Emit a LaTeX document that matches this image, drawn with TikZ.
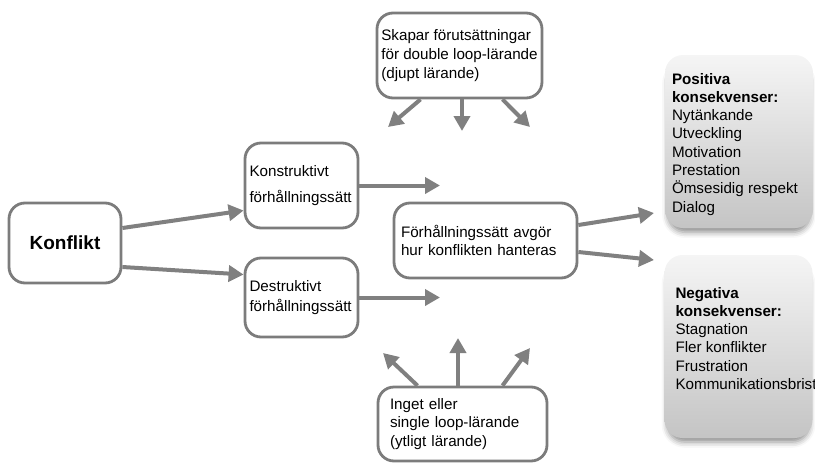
\documentclass[tikz,border=0pt]{standalone}
\usepackage{fontspec}
\setmainfont{Liberation Sans}
\usepackage{tikz}
\usetikzlibrary{positioning}
\usetikzlibrary{arrows.meta}
\usetikzlibrary{shadows.blur}

\definecolor{ramgra}{HTML}{7C7C7C}
\definecolor{pilgra}{HTML}{808080}

\begin{document}
\begin{tikzpicture}[x=1pt, y=-1pt,
    ruta/.style={draw=ramgra, line width=2.8pt, rounded corners=16pt, fill=white, inner xsep=0pt, inner ysep=0pt, align=left},
    pil/.style={draw=pilgra, line width=4pt, -{Triangle[length=15pt, width=16pt]}},
    konsruta/.style={rounded corners=18pt, top color=white!96!black, bottom color=black!23, minimum width=148pt,
        blur shadow={shadow xshift=0pt, shadow yshift=-8pt, shadow scale=0.96, shadow blur radius=6pt, shadow opacity=45}},
    konstext/.style={font=\fontsize{15.2}{18.3}\selectfont, align=left, inner sep=0pt}
    ]
    \useasboundingbox (0,0) rectangle (815,464);

    % rutor
    \node [ruta, align=center, minimum width=112pt, minimum height=80pt, font=\fontsize{19}{22}\selectfont\bfseries] (konflikt) at (65,243) {Konflikt};
    \node [ruta, minimum width=113pt, minimum height=85pt, text width=104pt, font=\fontsize{15.2}{26.7}\selectfont] (konst) at (301.5,185.5) {Konstruktivt\\förhållningssätt};
    \node [ruta, minimum width=113pt, minimum height=79pt, text width=104pt, font=\fontsize{15.2}{20.5}\selectfont] (dest) at (301.5,297.5) {Destruktivt\\förhållningssätt};
    \node [ruta, minimum width=183pt, minimum height=75pt, text width=169pt, font=\fontsize{15.2}{17.5}\selectfont] (mitt) at (485.5,240.5) {Förhållningssätt avgör\\hur konflikten hanteras};
    \node [ruta, minimum width=165pt, minimum height=85pt, font=\fontsize{15.2}{19}\selectfont] (topp) at (459.5,55.5) {Skapar förutsättningar\\för double loop-lärande\\(djupt lärande)};
    \node [ruta, minimum width=169pt, minimum height=74pt, text width=145pt, font=\fontsize{15.2}{18.5}\selectfont] (botten) at (462.5,424) {Inget eller\\single loop-lärande\\(ytligt lärande)};

    \node [konsruta, minimum height=173pt] (pos) at (739,141.5) {};
    \node [konsruta, minimum height=183pt] (neg) at (738.5,346.5) {};
    \node [konstext, below right=18pt and 7pt of pos.north west] (postext) {\textbf{Positiva}\\\textbf{konsekvenser:}\\Nytänkande\\Utveckling\\Motivation\\Prestation\\Ömsesidig respekt\\Dialog};
    \node [konstext, below right=32pt and 11pt of neg.north west] (negtext) {\textbf{Negativa}\\\textbf{konsekvenser:}\\Stagnation\\Fler konflikter\\Frustration\\Kommunikationsbrist};

    % fria pilspetsar
    \coordinate (k1) at (440,185.5);
    \coordinate (d1) at (440,297.5);
    \coordinate (p1) at (654,213);
    \coordinate (n1) at (654,260);
    \coordinate (t1) at (388,127);
    \coordinate (t2) at (462,131);
    \coordinate (t3) at (530,127);
    \coordinate (b1) at (383,353);
    \coordinate (b2) at (458,338);
    \coordinate (b3) at (530,348);

    % pilar
    \draw [pil] ([yshift=15pt]konflikt.east) -- ([yshift=-25pt]konst.west);
    \draw [pil] ([yshift=-24pt]konflikt.east) -- ([yshift=23pt]dest.west);
    \draw [pil] (konst.east) -- (k1);
    \draw [pil] (dest.east) -- (d1);
    \draw [pil] ([yshift=15.5pt]mitt.east) -- (p1);
    \draw [pil] ([yshift=-11.5pt]mitt.east) -- (n1);
    \draw [pil] ([xshift=-39pt]topp.south) -- (t1);
    \draw [pil] ([xshift=2.5pt]topp.south) -- (t2);
    \draw [pil] ([xshift=43pt]topp.south) -- (t3);
    \draw [pil] ([xshift=-45pt]botten.north) -- (b1);
    \draw [pil] ([xshift=-4.5pt]botten.north) -- (b2);
    \draw [pil] ([xshift=40pt]botten.north) -- (b3);

\end{tikzpicture}
\end{document}
